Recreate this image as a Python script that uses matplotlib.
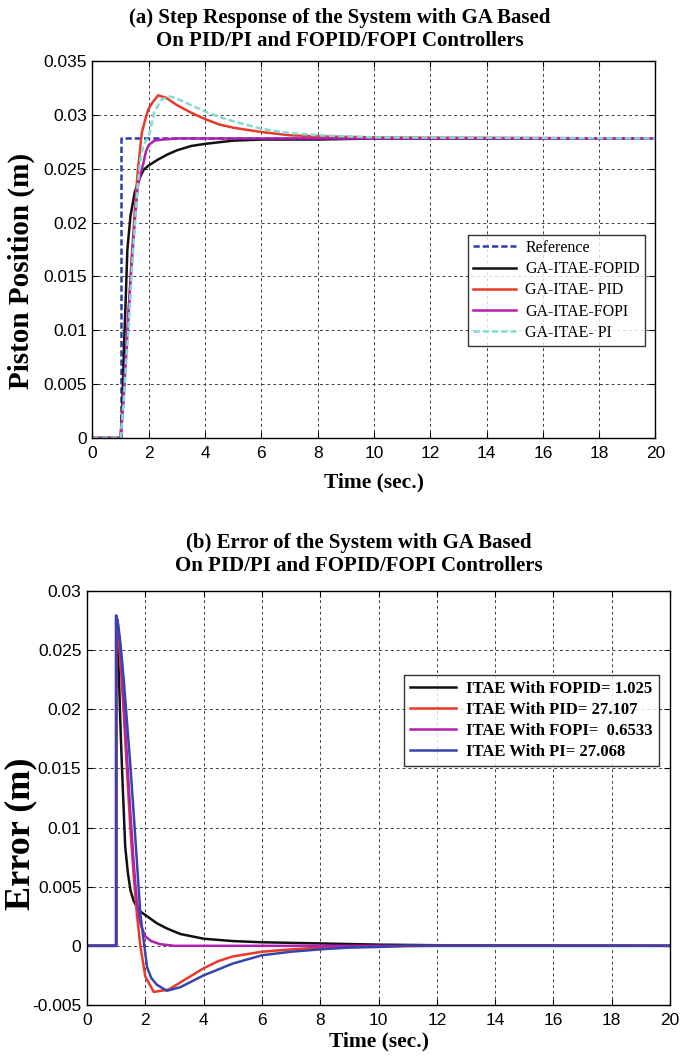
import matplotlib
matplotlib.use('Agg')
import matplotlib.pyplot as plt

# Step response samples (time in s, piston position in m)
t_ref = [0, 1.0, 1.0, 20]
y_ref = [0, 0, 0.0278, 0.0278]

t_fopid = [0, 1.0, 1.06, 1.12, 1.18, 1.24, 1.35, 1.5, 1.65, 1.82, 2.0, 2.3, 2.65,
           3.0, 3.5, 4.0, 5.0, 6.0, 7.0, 8.0, 10, 20]
y_fopid = [0, 0, 0.003, 0.0085, 0.0128, 0.0175, 0.0206, 0.0228, 0.0240, 0.0249,
           0.0253, 0.0258, 0.0263, 0.0267, 0.0271, 0.0273, 0.0276, 0.0277, 0.0277,
           0.0277, 0.0278, 0.0278]

t_pid = [0, 1.0, 1.1, 1.2, 1.3, 1.4, 1.5, 1.6, 1.75, 1.9, 2.0, 2.15, 2.33, 2.6,
         3.0, 3.5, 4.0, 4.5, 5.0, 6.0, 7.0, 8.0, 10, 20]
y_pid = [0, 0, 0.0035, 0.008, 0.0125, 0.017, 0.021, 0.0245, 0.0283, 0.0298,
         0.0306, 0.0312, 0.0318, 0.0316, 0.0309, 0.0302, 0.0296, 0.0291, 0.0288,
         0.0284, 0.0281, 0.0280, 0.0279, 0.0278]

t_fopi = [0, 1.0, 1.1, 1.2, 1.3, 1.4, 1.5, 1.6, 1.7, 1.8, 1.9, 2.0, 2.2, 2.5, 3.0, 20]
y_fopi = [0, 0, 0.0035, 0.008, 0.0125, 0.0165, 0.020, 0.0232, 0.0245, 0.0254,
          0.0266, 0.0272, 0.0276, 0.0277, 0.0278, 0.0278]

t_pi = [0, 1.0, 1.1, 1.2, 1.3, 1.4, 1.5, 1.6, 1.7, 1.8, 1.9, 2.0, 2.2, 2.45, 2.76,
        3.0, 3.5, 4.0, 4.5, 5.0, 6.0, 7.0, 8.0, 9.0, 10, 20]
y_pi = [0, 0, 0.003, 0.007, 0.011, 0.0155, 0.0195, 0.0233, 0.0258, 0.0271, 0.0276,
        0.0280, 0.0303, 0.0314, 0.0317, 0.0315, 0.0309, 0.0303, 0.0298, 0.0294,
        0.0287, 0.0283, 0.0281, 0.0280, 0.0279, 0.0278]

# Tracking error samples (time in s, error in m)
te_fopid = [0, 1.0, 1.0, 1.05, 1.1, 1.14, 1.2, 1.31, 1.4, 1.49, 1.6, 1.77, 2.06,
            2.4, 2.74, 3.2, 4.0, 5.0, 6.0, 7.0, 8.0, 9.0, 10, 12, 20]
e_fopid = [0, 0, 0.0279, 0.0255, 0.0225, 0.0191, 0.015, 0.0084, 0.0062, 0.0047,
           0.0038, 0.0030, 0.0025, 0.0019, 0.00147, 0.001, 0.0006, 0.0004, 0.0003,
           0.00025, 0.0002, 0.00015, 0.0001, 0.00005, 0]

te_pid = [0, 1.0, 1.0, 1.05, 1.15, 1.26, 1.37, 1.49, 1.6, 1.71, 1.83, 2.0, 2.29,
          2.8, 3.2, 4.0, 4.5, 5.0, 6.0, 7.0, 8.0, 10, 12, 20]
e_pid = [0, 0, 0.0279, 0.0272, 0.0240, 0.0197, 0.0148, 0.0098, 0.0060, 0.0027,
         0.0, -0.0026, -0.0039, -0.0037, -0.0031, -0.0019, -0.0013, -0.0009,
         -0.0005, -0.0003, -0.00015, -0.00005, 0, 0]

te_fopi = [0, 1.0, 1.0, 1.05, 1.15, 1.26, 1.37, 1.49, 1.6, 1.7, 1.77, 1.85, 2.0,
           2.2, 2.5, 3.0, 20]
e_fopi = [0, 0, 0.0279, 0.0274, 0.0250, 0.0205, 0.0160, 0.0112, 0.0070, 0.0040,
          0.0027, 0.0017, 0.0008, 0.0004, 0.00014, 0.0, 0]

te_pi = [0, 1.0, 1.0, 1.05, 1.15, 1.26, 1.4, 1.5, 1.6, 1.72, 1.83, 1.95, 2.06,
         2.2, 2.4, 2.74, 3.2, 4.0, 5.0, 6.0, 7.0, 8.0, 9.0, 10, 11, 20]
e_pi = [0, 0, 0.0279, 0.0275, 0.0255, 0.0225, 0.0180, 0.0148, 0.0112, 0.0068,
        0.0027, 0.0003, -0.0018, -0.0027, -0.0033, -0.0038, -0.0035, -0.0025,
        -0.0015, -0.0008, -0.0005, -0.0003, -0.00015, -0.0001, 0, 0]

itae_labels = ['ITAE With FOPID= 1.025', 'ITAE With PID= 27.107',
               'ITAE With FOPI=  0.6533', 'ITAE With PI= 27.068']

x_ticks = list(range(0, 21, 2))
y_ticks_top = [0, 0.005, 0.01, 0.015, 0.02, 0.025, 0.03, 0.035]
y_ticks_bot = [-0.005, 0, 0.005, 0.01, 0.015, 0.02, 0.025, 0.03]

BLACK = '#111111'
RED = '#e8392b'
PURPLE = '#b020b0'
CYAN = '#80dcd2'
NAVY = '#2a3cae'
BLUE = '#3545aa'

serif = ['Liberation Serif', 'DejaVu Serif']
sans = ['Liberation Sans', 'DejaVu Sans']

fig = plt.figure(figsize=(6.83, 10.63), dpi=100)
ax1 = fig.add_axes([0.1354, 0.5880, 0.8243, 0.3547])
ax2 = fig.add_axes([0.1274, 0.0546, 0.8536, 0.3895])


def style_axes(ax, yticks, ylim):
    ax.set_xlim(0, 20)
    ax.set_ylim(*ylim)
    ax.set_xticks(x_ticks)
    ax.set_yticks(yticks)
    ax.set_yticklabels([f'{v:g}' for v in yticks])
    ax.grid(True, color='0.25', linestyle=(0, (3, 3)), linewidth=0.7)
    ax.tick_params(direction='in', length=4, top=True, right=True,
                   labelsize=12.5, width=0.8)
    ax.tick_params(axis='x', pad=6)
    ax.tick_params(axis='y', pad=4)
    for lbl in ax.get_xticklabels() + ax.get_yticklabels():
        lbl.set_family(sans)
    for sp in ax.spines.values():
        sp.set_linewidth(1.0)
    ax.set_xlabel('Time (sec.)', family=serif, fontweight='bold', fontsize=15.5)


# (a) step response
ax1.plot(t_ref, y_ref, color=NAVY, linestyle=(0, (2.5, 1.2)), lw=1.8, label='Reference')
ax1.plot(t_fopid, y_fopid, color=BLACK, lw=1.8, label='GA-ITAE-FOPID')
ax1.plot(t_pid, y_pid, color=RED, lw=1.8, label='GA-ITAE- PID')
ax1.plot(t_fopi, y_fopi, color=PURPLE, lw=1.8, label='GA-ITAE-FOPI')
ax1.plot(t_pi, y_pi, color=CYAN, linestyle=(0, (2.5, 1.2)), lw=1.8, label='GA-ITAE- PI')
style_axes(ax1, y_ticks_top, (0, 0.035))
ax1.set_ylabel('Piston Position (m)', family=serif, fontweight='bold', fontsize=21,
               va='center')
ax1.yaxis.set_label_coords(-0.127, 0.443)
ax1.xaxis.set_label_coords(0.5, -0.117)
ax1.xaxis.label.set_va('center')
leg1 = ax1.legend(loc='upper right', bbox_to_anchor=(0.981, 0.538),
                  prop={'family': serif, 'size': 11.5}, frameon=True, fancybox=False,
                  edgecolor='black', handlelength=2.7, borderpad=0.3,
                  labelspacing=0.33, handletextpad=0.6, borderaxespad=0)
leg1.get_frame().set_linewidth(1.0)

# (b) tracking error
ax2.plot(te_fopid, e_fopid, color=BLACK, lw=1.8, label=itae_labels[0])
ax2.plot(te_pid, e_pid, color=RED, lw=1.8, label=itae_labels[1])
ax2.plot(te_fopi, e_fopi, color=PURPLE, lw=1.8, label=itae_labels[2])
ax2.plot(te_pi, e_pi, color=BLUE, lw=1.8, label=itae_labels[3])
style_axes(ax2, y_ticks_bot, (-0.005, 0.03))
ax2.set_ylabel('Error (m)', family=serif, fontweight='bold', fontsize=26, va='center')
ax2.yaxis.set_label_coords(-0.113, 0.413)
ax2.xaxis.set_label_coords(0.5, -0.089)
ax2.xaxis.label.set_va('center')
leg2 = ax2.legend(loc='upper right', bbox_to_anchor=(0.981, 0.797),
                  prop={'family': serif, 'size': 12, 'weight': 'bold'}, frameon=True,
                  fancybox=False, edgecolor='black', handlelength=2.8, borderpad=0.35,
                  labelspacing=0.3, handletextpad=0.6, borderaxespad=0)
leg2.get_frame().set_linewidth(1.0)

fig.text(0.497, 0.9925, '(a) Step Response of the System with GA Based\nOn PID/PI and FOPID/FOPI Controllers',
         ha='center', va='top', family=serif, fontweight='bold', fontsize=15,
         linespacing=1.2)
fig.text(0.525, 0.4985, '(b) Error of the System with GA Based\nOn PID/PI and FOPID/FOPI Controllers',
         ha='center', va='top', family=serif, fontweight='bold', fontsize=15,
         linespacing=1.2)

fig.savefig('out.png', dpi=100)
